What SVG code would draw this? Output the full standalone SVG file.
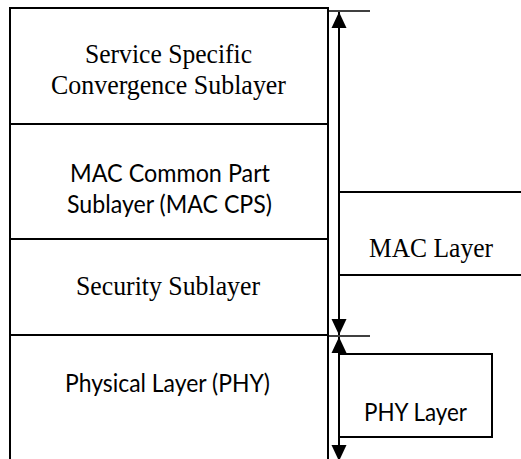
<svg xmlns="http://www.w3.org/2000/svg" width="521" height="459" viewBox="0 0 521 459">
  <style>
    .frame { fill: none; stroke: #000; stroke-width: 2; }
    .tick { fill: none; stroke: #000; stroke-width: 1.6; }
    .serif { font-family: "Liberation Serif", "Times New Roman", serif; font-size: 28px; fill: #000; }
    .sans { font-family: Lato, "Open Sans", sans-serif; font-size: 25px; fill: #000; }
  </style>
  <defs>
    <marker id="head" markerUnits="userSpaceOnUse" markerWidth="16" markerHeight="18" viewBox="0 0 16 18" refX="16" refY="8" orient="auto-start-reverse">
      <path d="M0,0.5 L16,8 L0,15.5 Z" fill="#000"/>
    </marker>
  </defs>

  <rect width="521" height="459" fill="#fff"/>

  <!-- protocol stack, one group per sublayer -->
  <g id="convergence">
    <path class="frame" d="M10,8 H328 V124 H10 Z"/>
    <text class="serif" x="85" y="63" textLength="167" lengthAdjust="spacingAndGlyphs">Service Specific</text>
    <text class="serif" x="51" y="94" textLength="235" lengthAdjust="spacingAndGlyphs">Convergence Sublayer</text>
  </g>

  <g id="mac-cps">
    <path class="frame" d="M10,124 H328 V239 H10 Z"/>
    <text class="sans" x="70" y="182" textLength="200" lengthAdjust="spacingAndGlyphs">MAC Common Part</text>
    <text class="sans" x="67" y="213" textLength="205" lengthAdjust="spacingAndGlyphs">Sublayer (MAC CPS)</text>
  </g>

  <g id="security">
    <path class="frame" d="M10,239 H328 V335 H10 Z"/>
    <text class="serif" x="76" y="295" textLength="184" lengthAdjust="spacingAndGlyphs">Security Sublayer</text>
  </g>

  <g id="phy">
    <path class="frame" d="M10,470 V335 H328 V470"/>
    <text class="sans" x="65" y="392" textLength="205" lengthAdjust="spacingAndGlyphs">Physical Layer (PHY)</text>
  </g>

  <!-- layer labels on the right -->
  <g id="mac-layer">
    <path class="frame" d="M523,192 H339 M339,275 H523"/>
    <text class="serif" x="369" y="257" textLength="124" lengthAdjust="spacingAndGlyphs">MAC Layer</text>
  </g>

  <g id="phy-layer">
    <path class="frame" d="M339,354 H492 V437 H339"/>
    <text class="sans" x="364" y="421" textLength="103" lengthAdjust="spacingAndGlyphs">PHY Layer</text>
  </g>

  <!-- extent markers -->
  <g id="connectors">
    <path class="tick" d="M328,11 H370"/>
    <path class="tick" d="M328,336 H370"/>
    <line class="frame" x1="339" y1="12" x2="339" y2="335" marker-start="url(#head)" marker-end="url(#head)"/>
    <line class="frame" x1="339" y1="337" x2="339" y2="461" marker-start="url(#head)" marker-end="url(#head)"/>
  </g>
</svg>
